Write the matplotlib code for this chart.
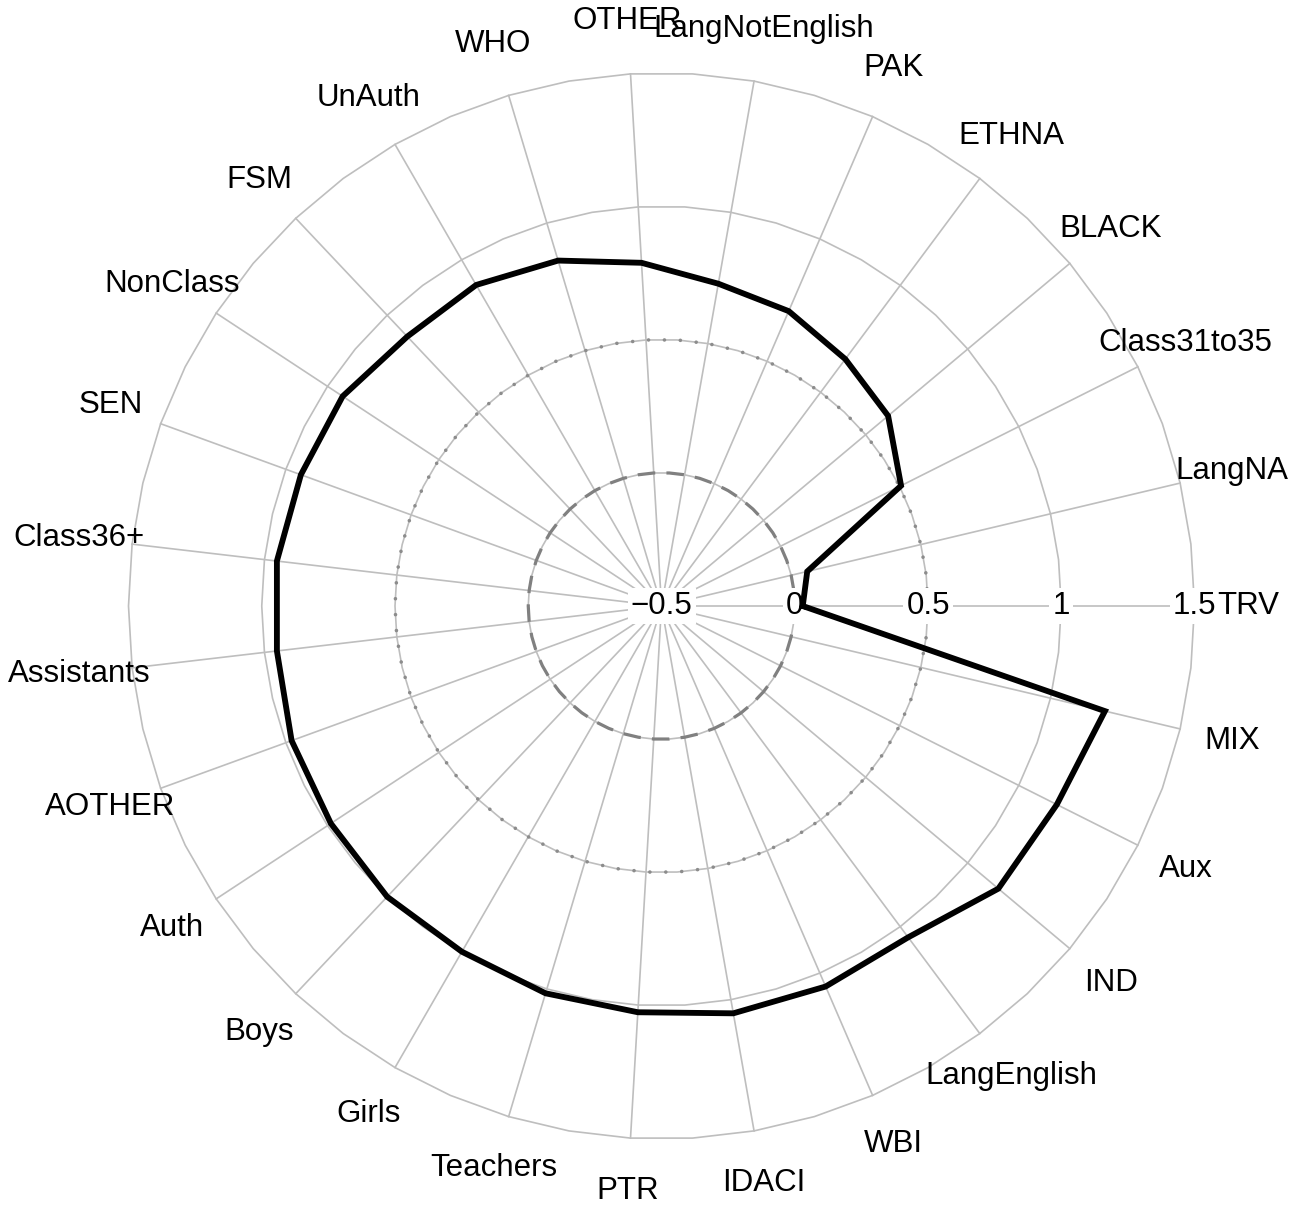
import numpy as np
import matplotlib
matplotlib.use("Agg")
import matplotlib.pyplot as plt

plt.rcParams['font.family'] = ['Liberation Sans', 'DejaVu Sans']

# ---- data (clockwise from the right) ----
variables = ['TRV', 'MIX', 'Aux', 'IND', 'LangEnglish', 'WBI', 'IDACI', 'PTR',
             'Teachers', 'Girls', 'Boys', 'Auth', 'AOTHER', 'Assistants',
             'Class36+', 'SEN', 'NonClass', 'FSM', 'UnAuth', 'WHO', 'OTHER',
             'LangNotEnglish', 'PAK', 'ETHNA', 'BLACK', 'Class31to35', 'LangNA']
values = [0.03, 1.21, 1.16, 1.15, 1.05, 1.055, 1.052, 1.027,
          1.017, 0.998, 1.0, 0.985, 0.977, 0.953,
          0.953, 0.94, 0.932, 0.89, 0.891, 0.853, 0.79,
          0.728, 0.705, 0.655, 0.61, 0.506, 0.062]
grid_breaks = [-0.5, 0, 0.5, 1, 1.5]
grid_labels = ['\u22120.5', '0', '0.5', '1', '1.5']

CENTRE = -0.5      # value at the centre of the plot
GRID_MAX = 1.5
LABEL_OFFSET = 1.1

# ---- geometry ----
n = len(variables)
angles = -np.arange(n) * 2 * np.pi / n


def polar_xy(v, a):
    r = np.asarray(v) - CENTRE
    return r * np.cos(a), r * np.sin(a)


fig = plt.figure(figsize=(13.05, 12.1), dpi=100)
ax = fig.add_axes([0, 0, 1, 1])
px = 266.5  # pixels per unit
ax.set_xlim(-661.5 / px, (1305 - 661.5) / px)
ax.set_ylim(-(1210 - 606) / px, 606 / px)
ax.axis('off')

grey = '#BEBEBE'

# spokes
for a in angles:
    x, y = polar_xy([CENTRE, GRID_MAX], [a, a])
    ax.plot(x, y, color=grey, lw=1.2, zorder=1)

# rings (polygons with vertices on spokes and half-way between)
ring_t = -np.linspace(0, 2 * np.pi, 2 * n + 1)
for b in grid_breaks[1:]:
    x, y = polar_xy(np.full_like(ring_t, b), ring_t)
    ax.plot(x, y, color=grey, lw=1.2, zorder=1)

x, y = polar_xy(np.full_like(ring_t, 0.0), ring_t)
ax.plot(x, y, color='#808080', lw=2.3, ls=(0, (5.5, 3.5)), zorder=2)
x, y = polar_xy(np.full_like(ring_t, 0.5), ring_t)
ax.plot(x, y, color='#8C8C8C', lw=2.6, ls=(0, (0.01, 4.4)),
        dash_capstyle='round', zorder=2)

# grid value labels along the first axis
for b, lab in zip(grid_breaks, grid_labels):
    ax.text(b - CENTRE, 0, lab, ha='center', va='center', fontsize=22.5,
            zorder=4, bbox=dict(boxstyle='square,pad=0.1', fc='white', ec='none'))

# data
vx, vy = polar_xy(values, angles)
ax.plot(np.append(vx, vx[0]), np.append(vy, vy[0]), color='black', lw=4.2,
        solid_joinstyle='miter', zorder=5)

# axis labels
lr = (GRID_MAX - CENTRE) * LABEL_OFFSET
for name, a in zip(variables, angles):
    ax.text(lr * np.cos(a), lr * np.sin(a), name, ha='center', va='center',
            fontsize=22.5, zorder=6)

fig.savefig('out.png', dpi=100, facecolor='white')
